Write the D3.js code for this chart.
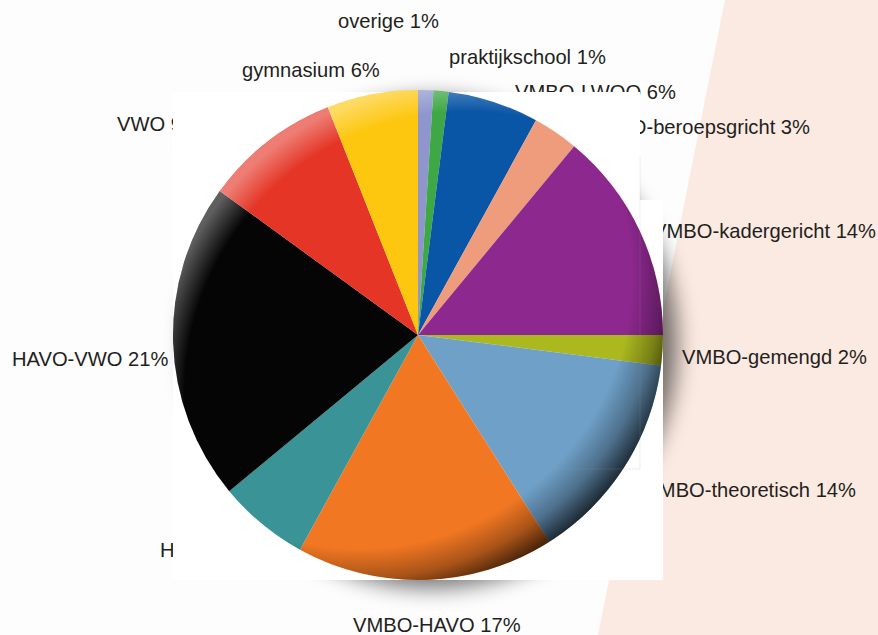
<!DOCTYPE html>
<html>
<head>
<meta charset="utf-8">
<script src="https://cdn.jsdelivr.net/npm/d3@7/dist/d3.min.js"></script>
<style>
  html, body { margin: 0; padding: 0; background: #fdfdfd; }
  svg { display: block; }
  .label { font-family: "Liberation Sans", Arial, sans-serif; font-size: 21px; fill: #231f20; }
</style>
</head>
<body>
<svg id="chart" width="878" height="635"></svg>
<script>
// Data, clockwise from 12 o'clock
const categories = [
  'overige', 'praktijkschool', 'VMBO-LWOO', 'VMBO-beroepsgricht',
  'VMBO-kadergericht', 'VMBO-gemengd', 'VMBO-theoretisch', 'VMBO-HAVO',
  'HAVO', 'HAVO-VWO', 'VWO', 'gymnasium'
];
const shares = [1, 1, 6, 3, 14, 2, 14, 17, 6, 21, 9, 6];
const sliceColors = [
  '#8e96cd', '#3ea846', '#0a56a6', '#ef9c7c',
  '#8d288e', '#acb91e', '#6fa0c8', '#f17722',
  '#3a9497', '#050505', '#e43526', '#fdc710'
];

// Label layout (anchor point + text-anchor), same order as categories
const labelLayout = [
  { x: 338, y: 28, anchor: 'start' },
  { x: 449, y: 64, anchor: 'start' },
  { x: 515, y: 99, anchor: 'start' },
  { x: 810, y: 134, anchor: 'end' },
  { x: 876, y: 238, anchor: 'end' },
  { x: 682, y: 364, anchor: 'start' },
  { x: 856, y: 497, anchor: 'end' },
  { x: 353, y: 632, anchor: 'start' },
  { x: 160, y: 557, anchor: 'start' },
  { x: 12, y: 366, anchor: 'start' },
  { x: 117, y: 131, anchor: 'start' },
  { x: 242, y: 77, anchor: 'start' }
];

const WIDTH = 878;
const HEIGHT = 635;
const CX = 418;
const CY = 335;
const RADIUS = 245;
const TEXT_SQUEEZE = 0.96;

const svg = d3.select('#chart');
const defs = svg.append('defs');

// Soft drop shadow behind the pie
defs.append('filter')
  .attr('id', 'blur')
  .attr('x', '-20%').attr('y', '-20%')
  .attr('width', '140%').attr('height', '140%')
  .append('feGaussianBlur')
    .attr('stdDeviation', 11);

// Rim darkening (lower right) and rim highlight (upper left)
const rimDark = defs.append('radialGradient')
  .attr('id', 'rim-dark')
  .attr('cx', 0.38).attr('cy', 0.38).attr('r', 0.67);
rimDark.append('stop').attr('offset', 0.83).attr('stop-color', '#000').attr('stop-opacity', 0);
rimDark.append('stop').attr('offset', 0.92).attr('stop-color', '#000').attr('stop-opacity', 0.3);
rimDark.append('stop').attr('offset', 1).attr('stop-color', '#000').attr('stop-opacity', 0.75);

const rimLight = defs.append('radialGradient')
  .attr('id', 'rim-light')
  .attr('cx', 0.6).attr('cy', 0.62).attr('r', 0.64);
rimLight.append('stop').attr('offset', 0.9).attr('stop-color', '#fff').attr('stop-opacity', 0);
rimLight.append('stop').attr('offset', 1).attr('stop-color', '#fff').attr('stop-opacity', 0.36);

// Pink backdrop on the right
svg.append('polygon')
  .attr('points', [[725, 0], [WIDTH, 0], [WIDTH, HEIGHT], [598, HEIGHT]].join(' '))
  .attr('fill', '#fbeae1');

// Labels (drawn before the white panel, which cuts some of them off)
const texts = categories.map((c, i) => `${c} ${shares[i]}%`);

svg.append('g')
  .selectAll('text')
  .data(texts)
  .join('text')
    .attr('class', 'label')
    .attr('text-anchor', (d, i) => labelLayout[i].anchor)
    .attr('transform', (d, i) =>
      `translate(${labelLayout[i].x},${labelLayout[i].y}) scale(${TEXT_SQUEEZE},1)`)
    .text(d => d);

// Shadow
svg.append('circle')
  .attr('cx', CX + 14)
  .attr('cy', CY + 8)
  .attr('r', RADIUS)
  .attr('fill', '#000')
  .attr('opacity', 0.55)
  .attr('filter', 'url(#blur)');

// White panel the pie sits on
svg.append('polygon')
  .attr('points', [[173, 92], [640, 92], [640, 200], [663, 200], [663, 580], [173, 580]].join(' '))
  .attr('fill', '#fff');

// Pie
const pie = d3.pie()
  .sort(null)
  .value(d => d);

const arc = d3.arc()
  .innerRadius(0)
  .outerRadius(RADIUS);

const pieG = svg.append('g')
  .attr('transform', `translate(${CX},${CY})`);

pieG.selectAll('path')
  .data(pie(shares))
  .join('path')
    .attr('d', arc)
    .attr('fill', (d, i) => sliceColors[i]);

pieG.append('circle')
  .attr('r', RADIUS)
  .attr('fill', 'url(#rim-dark)');

pieG.append('circle')
  .attr('r', RADIUS)
  .attr('fill', 'url(#rim-light)');

// Faint frame edge left over from the source image
svg.append('path')
  .attr('d', 'M640,157V469H470')
  .attr('fill', 'none')
  .attr('stroke', '#999')
  .attr('stroke-opacity', 0.18)
  .attr('stroke-width', 1);
</script>
</body>
</html>
